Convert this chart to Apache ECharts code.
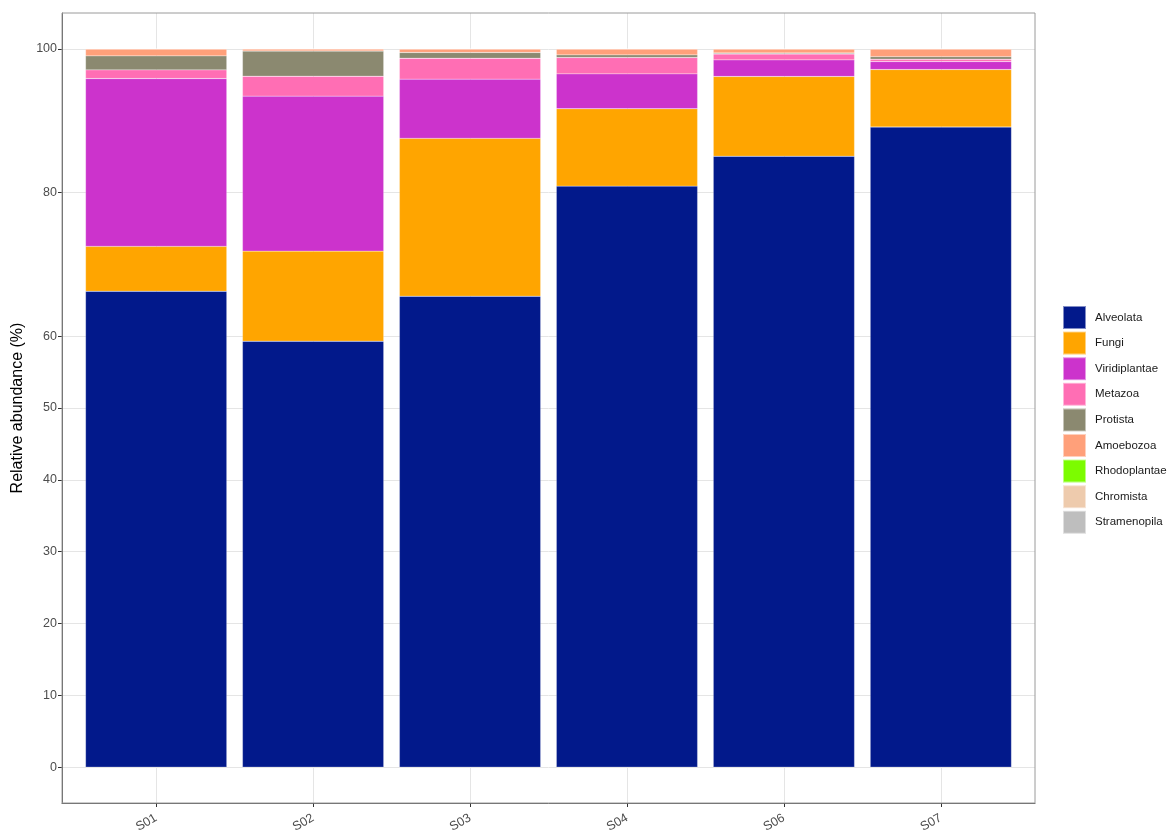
<!DOCTYPE html>
<html>
<head>
<meta charset="utf-8">
<script src="https://cdn.jsdelivr.net/npm/echarts@6/dist/echarts.min.js"></script>
<style>
  html, body { margin: 0; padding: 0; background: #fff; }
  #chart { width: 1169px; height: 833px; }
</style>
</head>
<body>
<div id="chart"></div>
<script>
// samples (x axis)
var samples = ['S01', 'S02', 'S03', 'S04', 'S06', 'S07'];

// relative abundance (%) per group, one value per sample
var alveolata     = [66.25, 59.30, 65.56, 80.90, 85.05, 89.12];
var fungi         = [6.25, 12.55, 21.98, 10.77, 11.11, 8.01];
var viridiplantae = [23.37, 21.58, 8.25, 4.86, 2.31, 1.11];
var metazoa       = [1.21, 2.77, 2.91, 2.27, 0.83, 0.33];
var protista      = [1.95, 3.50, 0.80, 0.37, 0.14, 0.36];
var amoebozoa     = [0.97, 0.30, 0.50, 0.83, 0.56, 1.07];
var rhodoplantae  = [0.00, 0.00, 0.00, 0.00, 0.00, 0.00];
var chromista     = [0.00, 0.00, 0.00, 0.00, 0.00, 0.00];
var stramenopila  = [0.00, 0.00, 0.00, 0.00, 0.00, 0.00];

var groupNames = ['Alveolata', 'Fungi', 'Viridiplantae', 'Metazoa', 'Protista',
  'Amoebozoa', 'Rhodoplantae', 'Chromista', 'Stramenopila'];
var groupValues = [alveolata, fungi, viridiplantae, metazoa, protista,
  amoebozoa, rhodoplantae, chromista, stramenopila];
var groupColors = ['#02198B', '#FFA500', '#CC33CC', '#FF6EB4', '#8B8970',
  '#FFA07A', '#7CFC00', '#EECBAD', '#BEBEBE'];

// tick labels
var yTicks = [0, 10, 20, 30, 40, 50, 60, 80, 100];
var xTicks = [1, 2, 3, 4, 5, 6];

var font = 'Liberation Sans, Arial, sans-serif';

// panel box and the inner band area (ggplot discrete expand of 0.6 per side)
var panel = { left: 62, top: 13, right: 134, bottom: 30 };
var band = (1169 - panel.left - panel.right) / 6.2;
var inset = band * 0.1;

var mychart = echarts.init(document.getElementById('chart'));

var series = groupNames.map(function (name, k) {
  return {
    name: name,
    type: 'bar',
    stack: 'total',
    xAxisIndex: 1,
    yAxisIndex: 1,
    barWidth: '90%',
    itemStyle: {
      color: groupColors[k],
      borderColor: 'rgba(255,255,255,0.5)',
      borderWidth: 0.4
    },
    emphasis: { disabled: true },
    data: groupValues[k]
  };
});

var option = {
  animation: false,
  grid: [
    { left: panel.left, top: panel.top, right: panel.right, bottom: panel.bottom,
      outerBoundsMode: 'none', containLabel: false },
    { left: panel.left + inset, top: panel.top, right: panel.right + inset, bottom: panel.bottom,
      outerBoundsMode: 'none', containLabel: false }
  ],
  legend: {
    orient: 'vertical',
    left: 1062,
    top: 305,
    padding: 0,
    icon: 'rect',
    itemWidth: 23,
    itemHeight: 23,
    itemGap: 0.6,
    textStyle: { fontFamily: font, fontSize: 11.5, color: '#1a1a1a', padding: [0, 0, 0, 4] },
    data: groupNames
  },
  xAxis: [{
    type: 'value',
    gridIndex: 0,
    min: 0.4,
    max: 6.6,
    axisLine: { show: true, onZero: false, lineStyle: { color: '#555', width: 1 } },
    axisTick: { show: true, length: 4, customValues: xTicks, lineStyle: { color: '#333' } },
    axisLabel: {
      customValues: xTicks,
      rotate: 30,
      margin: 14,
      fontFamily: font,
      fontSize: 12.5,
      color: '#4d4d4d',
      formatter: function (v) { return samples[Math.round(v) - 1] || ''; }
    },
    splitLine: { show: true, lineStyle: { color: '#e5e5e5', width: 1 } }
  }, {
    type: 'category',
    gridIndex: 1,
    data: samples,
    show: false
  }],
  yAxis: [{
    type: 'value',
    gridIndex: 0,
    min: -5,
    max: 105,
    name: 'Relative abundance (%)',
    nameLocation: 'middle',
    nameGap: 29,
    nameTextStyle: { fontFamily: font, fontSize: 16, color: '#000' },
    axisLine: { show: true, lineStyle: { color: '#555', width: 1 } },
    axisTick: { show: true, length: 4, customValues: yTicks, lineStyle: { color: '#333' } },
    axisLabel: {
      customValues: yTicks,
      margin: 5,
      fontFamily: font,
      fontSize: 12.5,
      color: '#4d4d4d'
    },
    splitLine: { show: true, lineStyle: { color: '#e5e5e5', width: 1 } }
  }, {
    type: 'value',
    gridIndex: 1,
    min: -5,
    max: 105,
    show: false,
    splitLine: { show: false }
  }],
  series: series
};

mychart.setOption(option);

// panel border (top/right) as in the reference
var gridRect = mychart.getModel().getComponent('grid', 0).coordinateSystem.getRect();
mychart.setOption({
  graphic: [{
    type: 'rect',
    silent: true,
    z: 100,
    shape: { x: gridRect.x, y: gridRect.y, width: gridRect.width, height: gridRect.height },
    style: { fill: 'none', stroke: '#9a9a9a', lineWidth: 1 }
  }]
});
window.onresize = mychart.resize;
</script>
</body>
</html>
